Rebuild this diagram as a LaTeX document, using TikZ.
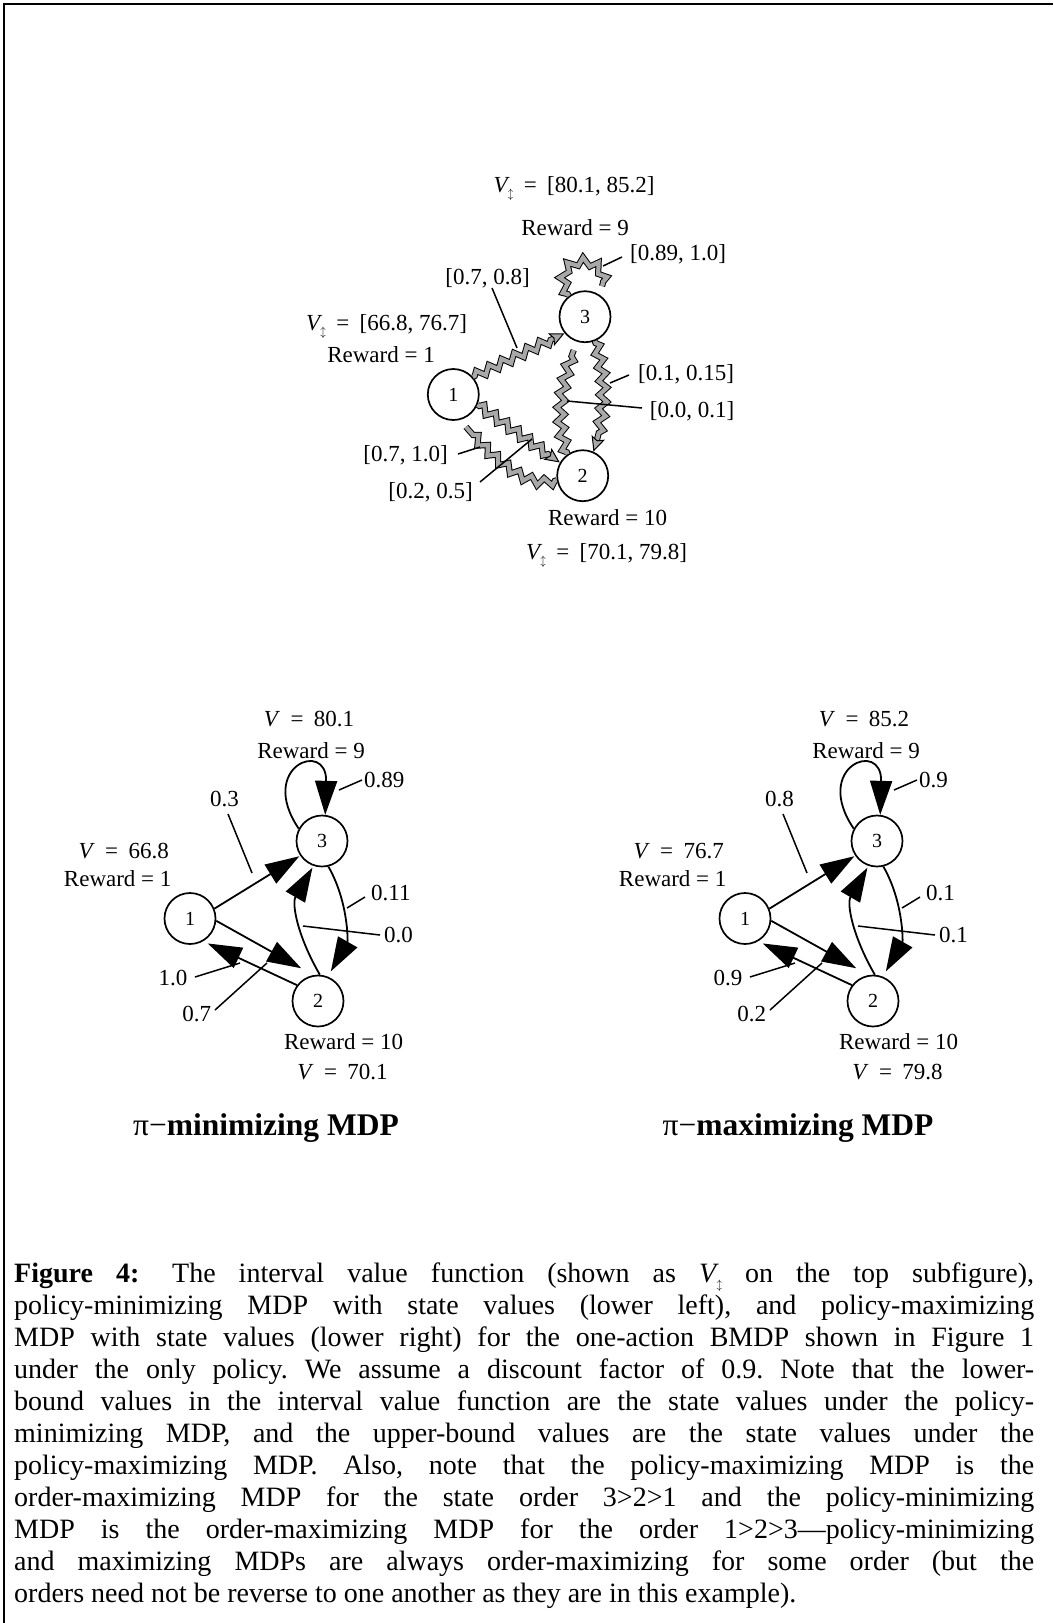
\documentclass[tikz,border=0pt]{standalone}
\usepackage{fontspec}
\setmainfont{Liberation Serif}
\usetikzlibrary{arrows.meta,decorations.pathmorphing,decorations.markings}
\frenchspacing
\newcommand\fsz[1]{\fontsize{#1}{#1}\selectfont}
\newcommand\Vud{\textit{V}\kern-0.08em\raisebox{-0.5ex}{\fsz{11}$\updownarrow$}}
\newcommand\eqs{\hspace{0.45em}=\hspace{0.45em}}
\definecolor{wgray}{gray}{0.66}
\newcommand\wavy[1]{\draw[wshaft] #1; \path[wtip] #1;}
\newcommand\mdpgraph[9]{%
 \node[state] (\pfx1) at (190,918.5) {1};
 \node[state] (\pfx3) at (322,841) {3};
 \node[state] (\pfx2) at (318,1001) {2};
 \draw[barrow, shorten >=1pt] (\pfx1.22) -- (\pfx3.214);
 \draw[barrow, shorten >=14pt] (\pfx1.-5) -- (\pfx2.100);
 \draw[barrow, shorten >=5pt] (\pfx2.143) -- (\pfx1.-60);
 \draw[barrow, shorten >=6pt] (\pfx3.-76) .. controls +(20,35) and +(20,-35) .. (\pfx2.68);
 \draw[barrow, shorten >=2pt] (\pfx2.86) .. controls +(-22,-38) and +(-22,38) .. (\pfx3.-109);
 \draw[barrow] (\pfx3.152) .. controls +(-42,-62) and +(2,-76) .. (\pfx3.83);
 \node[lbl,anchor=base] (\pfx V3) at (309,726) {\textit{V}\eqs #1};
 \node[lbl,anchor=base] (\pfx R3) at (311,758.3) {Reward = 9};
 \node[lbl,anchor=base west] (\pfx p33) at (364,787) {#2};
 \node[lbl,anchor=base] (\pfx p13) at (224.5,806.7) {#3};
 \node[lbl,anchor=base] (\pfx V1) at (123.7,858.3) {\textit{V}\eqs #4};
 \node[lbl,anchor=base] (\pfx R1) at (117.7,886.7) {Reward = 1};
 \node[lbl,anchor=base west] (\pfx p32) at (371,900.7) {#5};
 \node[lbl,anchor=base west] (\pfx p23) at (384,942.5) {#6};
 \node[lbl,anchor=base east] (\pfx p21) at (187.5,985) {#7};
 \node[lbl,anchor=base] (\pfx p12) at (196.8,1021.7) {#8};
 \node[lbl,anchor=base] (\pfx R2) at (343.5,1049.3) {Reward = 10};
 \node[lbl,anchor=base] (\pfx V2) at (342.5,1079.3) {\textit{V}\eqs #9};
 \coordinate (\pfx a1) at (228,814);   \coordinate (\pfx b1) at (252,873);
 \coordinate (\pfx a2) at (362,780);   \coordinate (\pfx b2) at (339,790);
 \coordinate (\pfx a3) at (365,897);   \coordinate (\pfx b3) at (347,908);
 \coordinate (\pfx a4) at (380,935);   \coordinate (\pfx b4) at (303,926);
 \coordinate (\pfx a5) at (195,977);   \coordinate (\pfx b5) at (240,963);
 \coordinate (\pfx a6) at (215,1010);  \coordinate (\pfx b6) at (267,963);
 \foreach \k in {1,...,6} {\draw[lead] (\pfx a\k) -- (\pfx b\k);}
}
\begin{document}
\begin{tikzpicture}[x=1pt,y=-1pt,
  state/.style={circle, draw, line width=1.7pt, minimum size=51pt, inner sep=0pt, font=\fsz{20}},
  lbl/.style={inner sep=0pt, font=\fsz{23}},
  ttl/.style={inner sep=0pt, font=\fsz{31.5}, anchor=base},
  lead/.style={line width=1.5pt},
  barrow/.style={line width=1.8pt, -{Triangle[length=34pt,width=22pt]}},
  frame/.style={line width=1.5pt},
  wshaft/.style={draw=black, line width=1pt, double=wgray, double distance=4.2pt,
    decorate, decoration={zigzag, segment length=14pt, amplitude=4pt, pre length=2pt, post length=13pt},
    shorten >=9pt},
  wtip/.style={decorate, decoration={markings, mark=at position 1 with
    {\arrow{Stealth[length=15pt,width=14pt,inset=3pt,fill=wgray,line width=1pt]}}}},
  capl/.style={anchor=base west, inner sep=0pt, font=\fsz{28}}
]
\useasboundingbox (0,0) rectangle (1053,1623);
% frame
\coordinate (fTR) at (1053,4); \coordinate (fTL) at (4,4); \coordinate (fBL) at (4,1623);
\draw[frame] (fTR) -- (fTL) -- (fBL);

% ---------- top BMDP ----------
\node[state] (T1) at (453.3,394.5) {1};
\node[state] (T3) at (585,316.7) {3};
\node[state] (T2) at (582.7,475.7) {2};
\wavy{(T1.42) -- (T3.219)}
\wavy{(T1.-23) -- (T2.150)}
\wavy{(T2.190) .. controls +(-32,10) and +(30,36) .. (T1.-75)}
\wavy{(T3.-68) .. controls +(12,35) and +(12,-35) .. (T2.66)}
\wavy{(T2.125) .. controls +(-14,-35) and +(-14,35) .. (T3.-108)}
\wavy{(T3.128) .. controls +(-25,-45) and +(20,-45) .. (T3.56)}

\node[lbl,anchor=base] (tV3) at (574,192) {\Vud\eqs[80.1, 85.2]};
\node[lbl,anchor=base] (tR3) at (575,235) {Reward = 9};
\node[lbl,anchor=base] (tP33) at (678,260) {[0.89, 1.0]};
\node[lbl,anchor=base] (tP13) at (487.5,284) {[0.7, 0.8]};
\node[lbl,anchor=base] (tV1) at (386.5,330) {\Vud\eqs[66.8, 76.7]};
\node[lbl,anchor=base] (tR1) at (381,362.7) {Reward = 1};
\node[lbl,anchor=base] (tP32) at (686,380) {[0.1, 0.15]};
\node[lbl,anchor=base] (tP23) at (692,417) {[0.0, 0.1]};
\node[lbl,anchor=base] (tP21) at (405.5,461.7) {[0.7, 1.0]};
\node[lbl,anchor=base] (tP12) at (430.5,498) {[0.2, 0.5]};
\node[lbl,anchor=base] (tR2) at (607.5,525.7) {Reward = 10};
\node[lbl,anchor=base] (tV2) at (606.5,559) {\Vud\eqs[70.1, 79.8]};

\coordinate (ta1) at (492,288); \coordinate (tb1) at (517,348);
\coordinate (ta2) at (622,257); \coordinate (tb2) at (603,266);
\coordinate (ta3) at (629,375); \coordinate (tb3) at (610,383);
\coordinate (ta4) at (642,408); \coordinate (tb4) at (567,401);
\coordinate (ta5) at (458,454); \coordinate (tb5) at (480,447);
\coordinate (ta6) at (480,482); \coordinate (tb6) at (532,439);
\foreach \k in {1,...,6} {\draw[lead] (ta\k) -- (tb\k);}

% ---------- bottom left ----------
\begin{scope}
\def\pfx{L}
\mdpgraph{80.1}{0.89}{0.3}{66.8}{0.11}{0.0}{1.0}{0.7}{70.1}
\end{scope}
\node[ttl] (ttlL) at (266,1135) {π−\textbf{minimizing MDP}};

% ---------- bottom right ----------
\begin{scope}[xshift=555pt]
\def\pfx{R}
\mdpgraph{85.2}{0.9}{0.8}{76.7}{0.1}{0.1}{0.9}{0.2}{79.8}
\end{scope}
\node[ttl] (ttlR) at (798,1135) {π−\textbf{maximizing MDP}};

% ---------- caption ----------
\node[capl] (c1) at (14,1282) {\makebox[1020pt][s]{\textbf{Figure 4:}\hspace{0.35em} The interval value function (shown as \Vud\ on the top subfigure),}};
\node[capl] (c2) at (14,1314) {\makebox[1020pt][s]{policy-minimizing MDP with state values (lower left), and policy-maximizing}};
\node[capl] (c3) at (14,1346) {\makebox[1020pt][s]{MDP with state values (lower right) for the one-action BMDP shown in Figure 1}};
\node[capl] (c4) at (14,1378) {\makebox[1020pt][s]{under the only policy. We assume a discount factor of 0.9. Note that the lower-}};
\node[capl] (c5) at (14,1410) {\makebox[1020pt][s]{bound values in the interval value function are the state values under the policy-}};
\node[capl] (c6) at (14,1442) {\makebox[1020pt][s]{minimizing MDP, and the upper-bound values are the state values under the}};
\node[capl] (c7) at (14,1474) {\makebox[1020pt][s]{policy-maximizing MDP. Also, note that the policy-maximizing MDP is the}};
\node[capl] (c8) at (14,1506) {\makebox[1020pt][s]{order-maximizing MDP for the state order 3>2>1 and the policy-minimizing}};
\node[capl] (c9) at (14,1538) {\makebox[1020pt][s]{MDP is the order-maximizing MDP for the order 1>2>3—policy-minimizing}};
\node[capl] (c10) at (14,1570) {\makebox[1020pt][s]{and maximizing MDPs are always order-maximizing for some order (but the}};
\node[capl] (c11) at (14,1602) {orders need not be reverse to one another as they are in this example).};
\end{tikzpicture}
\end{document}
